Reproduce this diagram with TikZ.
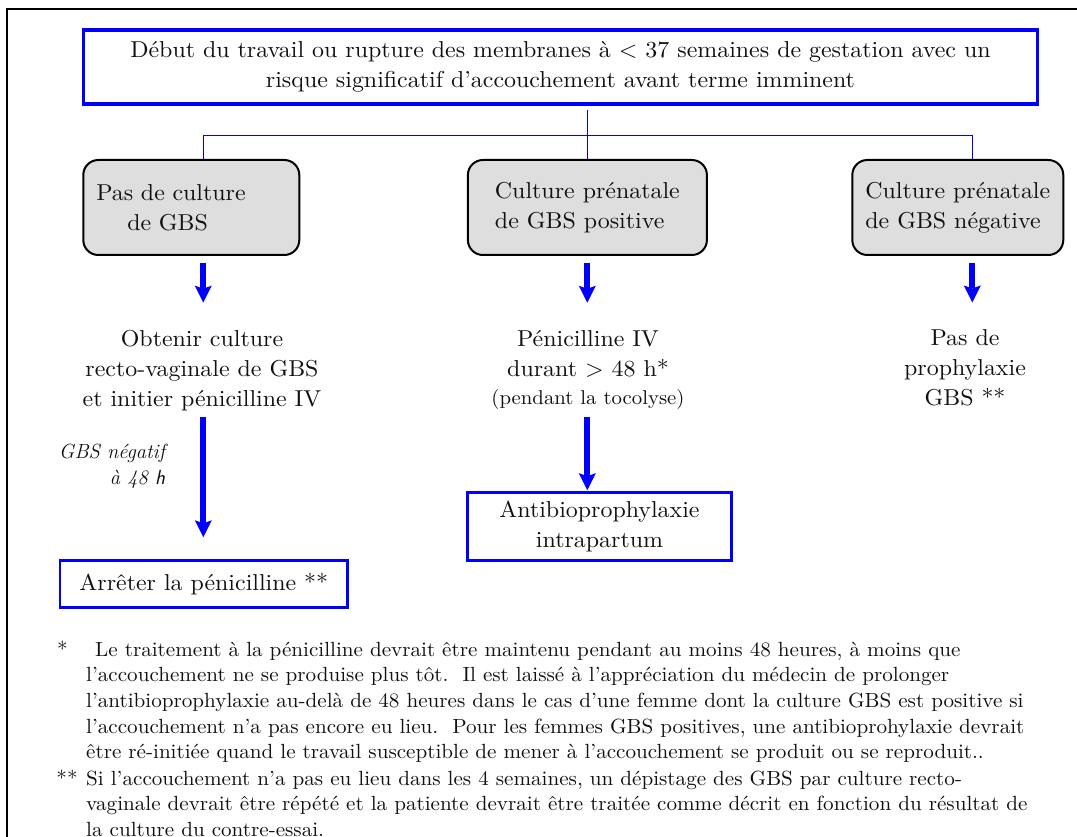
\documentclass[tikz,border=0pt]{standalone}
\usepackage{amsmath,amssymb}
\usepackage{fontspec}
\usepackage{xcolor}
\usepackage{tikz}
\usetikzlibrary{positioning,arrows.meta,calc}
\newfontfamily\flowFont[FakeStretch=1.04]{lmroman10-regular.otf}
\newfontfamily\noteFont[FakeStretch=1.03]{lmroman10-regular.otf}
\definecolor{FlowBlue}{HTML}{0000FF}
\definecolor{BoxGray}{HTML}{DEDEDE}
\definecolor{TextDark}{HTML}{111111}
\tikzset{
  mainText/.style={font=\flowFont\fontsize{23}{30}\selectfont, text=TextDark},
  startBox/.style={draw=FlowBlue, line width=3.5pt, minimum width=954pt,
    minimum height=74pt, align=center, mainText},
  cultureBox/.style={draw=black, line width=2pt, fill=BoxGray,
    rounded corners=15pt, minimum height=95pt, align=left, mainText},
  actionBox/.style={draw=FlowBlue, line width=2.5pt, align=center, mainText},
  stepText/.style={align=center, mainText},
  treeLine/.style={draw=FlowBlue, line width=1.5pt},
  bigArrow/.style={draw=FlowBlue, line width=6pt,
    -{Stealth[length=17pt,width=17pt,inset=3pt,line width=0pt]}},
  noteText/.style={font=\noteFont\fontsize{20.5}{25.7}\selectfont, text=TextDark,
    inner sep=0pt, align=left},
}
\begin{document}
\begin{tikzpicture}[x=1pt,y=-1pt]
        \useasboundingbox (0,0) rectangle (1077,837);
        \clip (0,0) rectangle (1077,837);
        \fill[white] (0,0) rectangle (1077,837);
        \draw[line width=2pt, black] (7,8.6) rectangle (1100,870);

        \node[startBox] (debut) at (560.5,67.1)
          {Début du travail ou rupture des membranes à < 37 semaines de gestation avec un\\
           risque significatif d’accouchement avant terme imminent};

        \node[cultureBox, minimum width=216pt, text width=190pt] (noCult) at (191.3,207.5)
          {Pas de culture\\\hspace*{31pt}de GBS};
        \node[cultureBox, minimum width=239pt] (cultPos) at (587.4,207.5)
          {Culture prénatale\\de GBS positive};
        \node[cultureBox, minimum width=211pt] (cultNeg) at (957.8,207.5)
          {Culture prénatale\\de GBS négative};

        \coordinate (jNo) at (203.3,135.7);
        \coordinate (jPos) at (587.3,135.7);
        \coordinate (jNeg) at (972.3,135.7);
        \draw[treeLine, shorten <=4pt] (debut.south -| jPos) -- (jPos);
        \draw[treeLine] (noCult.north -| jNo) -- (jNo) -- (jNeg) -- (cultNeg.north -| jNeg);
        \draw[treeLine] (jPos) -- (cultPos.north -| jPos);

        \node[stepText] (obtenir) at (202,370.2)
          {Obtenir culture\\recto-vaginale de GBS\\et initier pénicilline IV};
        \node[stepText] (peni) at (588,369.5)
          {Pénicilline IV\\durant > 48 h*\\[-2pt]{\fontsize{20}{26}\selectfont (pendant la tocolyse)}};
        \node[stepText] (pasProph) at (965,367.9)
          {Pas de\\prophylaxie\\GBS **};

        \node[actionBox, minimum width=287.5pt, minimum height=47pt] (arreter) at (203.8,584)
          {Arrêter la pénicilline **};
        \node[actionBox, minimum width=264pt, minimum height=68pt] (antibio) at (599.5,526.4)
          {Antibioprophylaxie\\intrapartum};

        \draw[bigArrow, shorten <=7pt, shorten >=23.7pt] (noCult.south -| jNo) -- (jNo |- obtenir.north);
        \draw[bigArrow, shorten <=7pt, shorten >=23.7pt] (cultPos.south -| jPos) -- (jPos |- peni.north);
        \draw[bigArrow, shorten <=7pt, shorten >=23.7pt] (cultNeg.south -| jNeg) -- (jNeg |- pasProph.north);
        \draw[bigArrow, shorten <=3.2pt, shorten >=22pt] (obtenir.south -| jNo) --
          node[pos=0.36, left=32pt, align=right, text=TextDark,
            font=\fontsize{20.5}{26}\selectfont\itshape] (negLabel)
          {GBS négatif\\à 48 \textsf{h}} (jNo |- arreter.north);
        \draw[bigArrow, shorten <=4.4pt, shorten >=1pt] (peni.south -| jPos) -- (jPos |- antibio.north);

        \node[noteText, anchor=base] (star1) at (62.5,656) {*};
        \node[noteText, anchor=north west] (note1) at (86,641.6)
          {\hspace*{9pt}Le traitement à la pénicilline devrait être maintenu pendant au moins 48 heures, à moins que\\
           l’accouchement ne se produise plus tôt.\ \ Il est laissé à l’appréciation du médecin de prolonger\\
           l’antibioprophylaxie au-delà de 48 heures dans le cas d’une femme dont la culture GBS est positive si\\
           l’accouchement n’a pas encore eu lieu.\ \ Pour les femmes GBS positives, une antibioprohylaxie devrait\\
           être ré-initiée quand le travail susceptible de mener à l’accouchement se produit ou se reproduit..};
        \node[noteText, anchor=base] (star2) at (67,785) {**};
        \node[noteText, anchor=north west] (note2) at (86,770.6)
          {Si l’accouchement n’a pas eu lieu dans les 4 semaines, un dépistage des GBS par culture recto-\\
           vaginale devrait être répété et la patiente devrait être traitée comme décrit en fonction du résultat de\\
           la culture du contre-essai.};
\end{tikzpicture}
\end{document}
